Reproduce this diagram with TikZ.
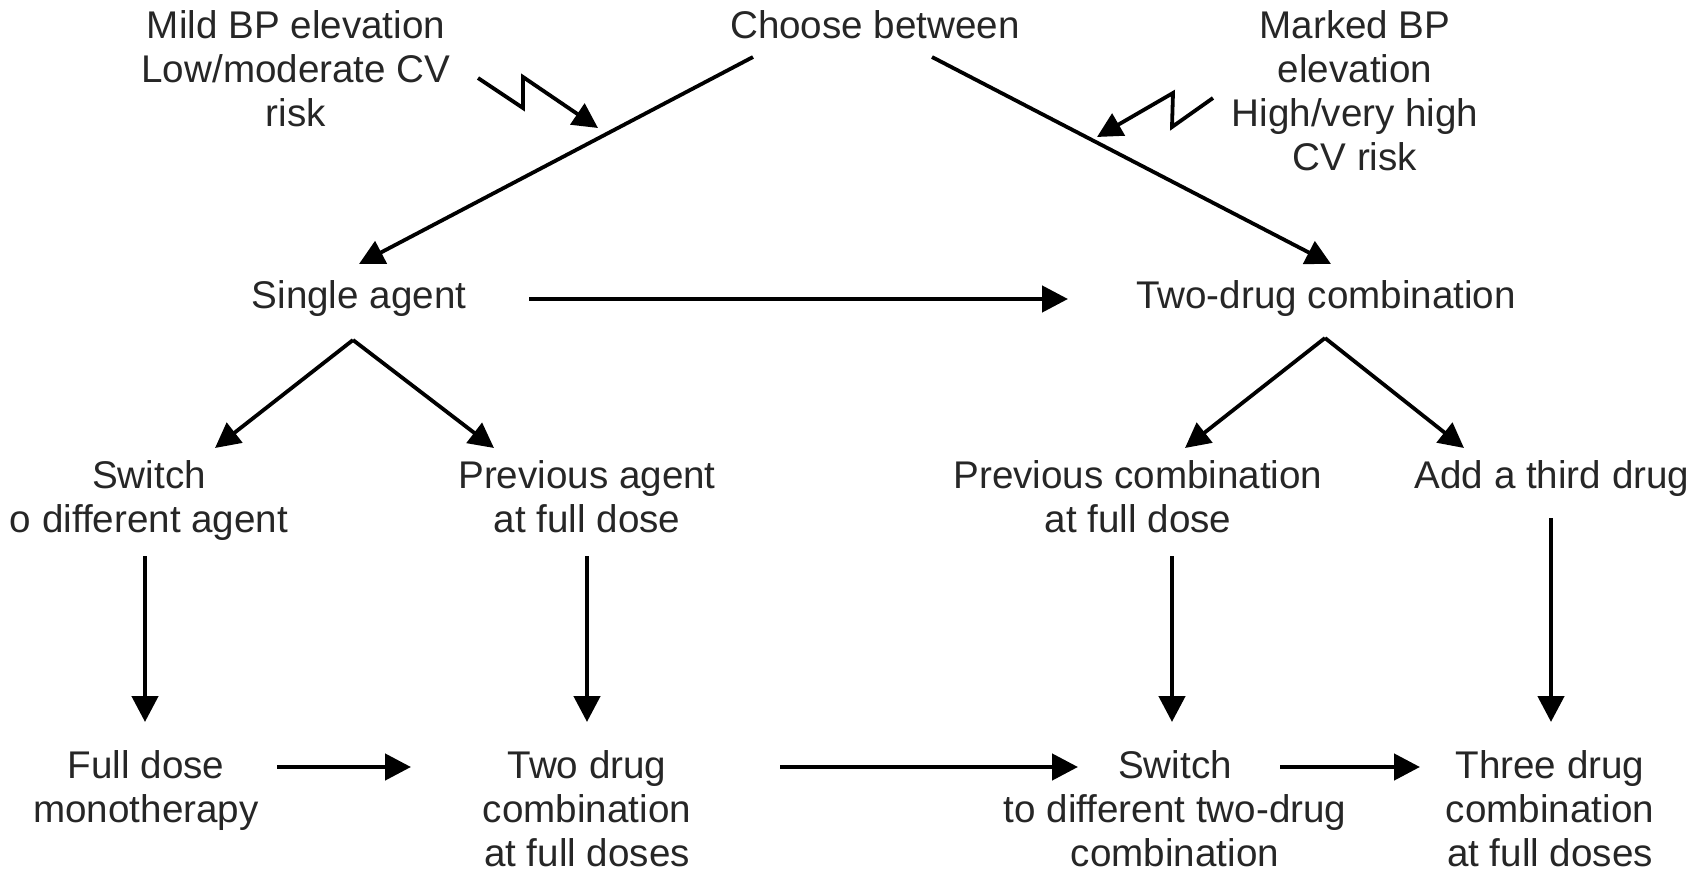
\documentclass[tikz,border=0pt]{standalone}
\usepackage{fontspec}
\setmainfont{Liberation Sans}
\usetikzlibrary{arrows.meta,calc}
\begin{document}
\begin{tikzpicture}[x=0.5pt,y=-0.5pt,
  lbl/.style={anchor=north, inner sep=0pt, align=center, font=\fontsize{19.3}{21.9}\selectfont, text=black!85},
  conn/.style={line width=1.9pt, -{Triangle[length=12.5pt,width=12.5pt]}},
  conn2/.style={line width=2.3pt, -{Triangle[length=13pt,width=13pt]}}]
\useasboundingbox (0,0) rectangle (1704,872);
% nodes
\node[lbl] (choose) at (875,10.5) {Choose between};
\node[lbl] (mild) at (296,10.5) {Mild BP elevation\\Low/moderate CV\\risk};
\node[lbl] (marked) at (1355,10.5) {Marked BP\\elevation\\High/very high\\CV risk};
\node[lbl] (single) at (359,280) {Single agent};
\node[lbl] (twodrug) at (1326,280) {Two-drug combination};
\node[lbl] (switch1) at (149,460.5) {Switch\\o different agent};
\node[lbl] (prevagent) at (587,460.5) {Previous agent\\at full dose};
\node[lbl] (prevcomb) at (1138,460.5) {Previous combination\\at full dose};
\node[lbl] (third) at (1552,460.5) {Add a third drug};
\node[lbl] (fulldose) at (146,750.5) {Full dose\\monotherapy};
\node[lbl] (twodrug2) at (587,750.5) {Two drug\\combination\\at full doses};
\node[lbl] (switch2) at (1175,750.5) {Switch\\to different two-drug\\combination};
\node[lbl] (three) at (1550,750.5) {Three drug\\combination\\at full doses};
% zigzag coordinates
\coordinate (zl0) at (478,78);
\coordinate (zl1) at (523,108);
\coordinate (zl2) at (523,77);
\coordinate (zl3) at (598,128);
\coordinate (zr0) at (1213,98);
\coordinate (zr1) at (1172,127);
\coordinate (zr2) at (1173,93);
\coordinate (zr3) at (1097,137);
% main diagonals
\draw[conn] ($(choose.north)+(-122,46.5)$) -- ($(single.north)+(0,-16)$);
\draw[conn] ($(choose.north)+(57,46.5)$) -- ($(twodrug.north)+(5,-16)$);
% zigzags
\draw[conn, line join=miter] (zl0) -- (zl1) -- (zl2) -- (zl3);
\draw[conn, line join=miter] (zr0) -- (zr1) -- (zr2) -- (zr3);
% row 2 horizontal
\draw[conn2] ($(single.north)+(170,19)$) -- ($(twodrug.north)+(-258,19)$);
% row 2 -> row 3
\draw[conn] ($(single.north)+(-6,60)$) -- ($(switch1.north)+(66,-12.5)$);
\draw[conn] ($(single.north)+(-6,60)$) -- ($(prevagent.north)+(-93,-12.5)$);
\draw[conn] ($(twodrug.north)+(-1,58)$) -- ($(prevcomb.north)+(47,-12.5)$);
\draw[conn] ($(twodrug.north)+(-1,58)$) -- ($(third.north)+(-88,-12.5)$);
% verticals
\draw[conn2] ($(switch1.north)+(-4,95.5)$) -- ($(fulldose.north)+(-1,-28.5)$);
\draw[conn2] ($(prevagent.north)+(0,95.5)$) -- ($(twodrug2.north)+(0,-28.5)$);
\draw[conn2] ($(prevcomb.north)+(34,95.5)$) -- ($(switch2.north)+(-3,-28.5)$);
\draw[conn2] ($(third.north)+(-1,57.5)$) -- ($(three.north)+(1,-28.5)$);
% row 4 horizontals
\draw[conn2] ($(fulldose.north)+(131,16.5)$) -- ($(twodrug2.north)+(-176,16.5)$);
\draw[conn2] ($(twodrug2.north)+(193,16.5)$) -- ($(switch2.north)+(-97,16.5)$);
\draw[conn2] ($(switch2.north)+(105,16.5)$) -- ($(three.north)+(-130,16.5)$);
\end{tikzpicture}
\end{document}
